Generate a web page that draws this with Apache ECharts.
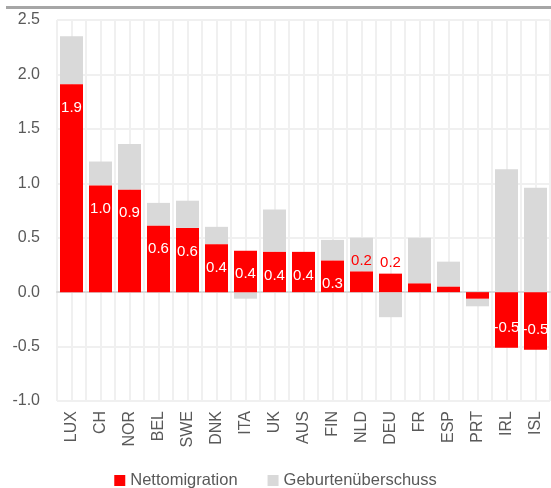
<!DOCTYPE html>
<html>
<head>
<meta charset="utf-8">
<script src="https://cdn.jsdelivr.net/npm/echarts@6/dist/echarts.min.js"></script>
<style>
  html, body { margin: 0; padding: 0; background: #fff; }
  #chart { width: 551px; height: 488px; }
</style>
</head>
<body>
<div id="chart"></div>
<script>
const countries = ['LUX', 'CH', 'NOR', 'BEL', 'SWE', 'DNK', 'ITA', 'UK', 'AUS', 'FIN', 'NLD', 'DEU', 'FR', 'ESP', 'PRT', 'IRL', 'ISL'];
const nettomigration = [1.91, 0.98, 0.94, 0.61, 0.59, 0.44, 0.38, 0.37, 0.37, 0.29, 0.19, 0.17, 0.08, 0.05, -0.06, -0.51, -0.53];
const geburten = [0.44, 0.22, 0.42, 0.21, 0.25, 0.16, -0.06, 0.39, 0.0, 0.19, 0.31, -0.23, 0.42, 0.23, -0.07, 1.13, 0.96];
const yTicks = [-1.0, -0.5, 0.0, 0.5, 1.0, 1.5, 2.0, 2.5];

const fontName = "'Liberation Sans', Arial, sans-serif";
const textColor = '#595959';
const gridColor = '#f0f0f0';

// Etiketten: groß -> innen weiß, klein -> oberhalb rot, sehr klein -> keine
function labelFor(v) {
    const a = Math.abs(v);
    if (a >= 0.25) {
        return {
            show: true,
            position: v >= 0 ? 'insideTop' : 'insideBottom',
            distance: v >= 0 ? 16 : 12,
            color: '#fff'
        };
    }
    if (a >= 0.15) {
        return { show: true, position: 'top', distance: 3, color: '#ff0000' };
    }
    return { show: false };
}

const chart = echarts.init(document.getElementById('chart'));
chart.setOption({
    backgroundColor: '#fff',
    animation: false,
    textStyle: { fontFamily: fontName },
    graphic: [{
        type: 'rect',
        shape: { x: 6, y: 6, width: 545, height: 3 },
        style: { fill: '#a6a6a6' }
    }],
    grid: { left: 57, right: 1, top: 20, bottom: 87 },
    legend: {
        bottom: -6,
        left: 'center',
        itemWidth: 11,
        itemHeight: 11,
        itemGap: 30,
        icon: 'rect',
        textStyle: { fontFamily: fontName, fontSize: 16.5, color: textColor },
        data: ['Nettomigration', 'Geburtenüberschuss']
    },
    xAxis: [
        {
            type: 'category',
            data: countries,
            axisLine: { onZero: true, lineStyle: { color: '#d9d9d9', width: 2 } },
            axisTick: { show: false },
            splitLine: { show: false },
            axisLabel: {
                rotate: 90,
                interval: 0,
                margin: 10,
                fontSize: 16,
                color: textColor,
                fontFamily: fontName
            }
        },
        {
            // nur für das feine Gitter (Kategoriegrenzen + Mitten)
            type: 'value',
            min: 0,
            max: countries.length,
            interval: 1,
            axisLine: { show: false },
            axisTick: { show: false },
            axisLabel: { show: false },
            minorTick: { show: false, splitNumber: 2 },
            splitLine: { show: true, lineStyle: { color: gridColor, width: 2 } },
            minorSplitLine: { show: true, lineStyle: { color: gridColor, width: 2 } }
        }
    ],
    yAxis: {
        type: 'value',
        min: yTicks[0],
        max: yTicks[yTicks.length - 1],
        interval: 0.5,
        axisLine: { show: false },
        axisTick: { show: false },
        axisLabel: {
            margin: 17,
            fontSize: 16,
            color: textColor,
            fontFamily: fontName,
            formatter: v => v.toFixed(1)
        },
        splitLine: { lineStyle: { color: gridColor, width: 2 } }
    },
    series: [
        {
            name: 'Nettomigration',
            type: 'bar',
            stack: 'total',
            barWidth: 23,
            itemStyle: { color: '#ff0000' },
            label: {
                fontSize: 15,
                fontFamily: fontName,
                formatter: p => p.value.toFixed(1)
            },
            data: nettomigration.map(v => ({ value: v, label: labelFor(v) })),
            z: 3
        },
        {
            name: 'Geburtenüberschuss',
            type: 'bar',
            stack: 'total',
            barWidth: 23,
            itemStyle: { color: '#d9d9d9' },
            data: geburten,
            z: 2
        }
    ]
});
</script>
</body>
</html>
